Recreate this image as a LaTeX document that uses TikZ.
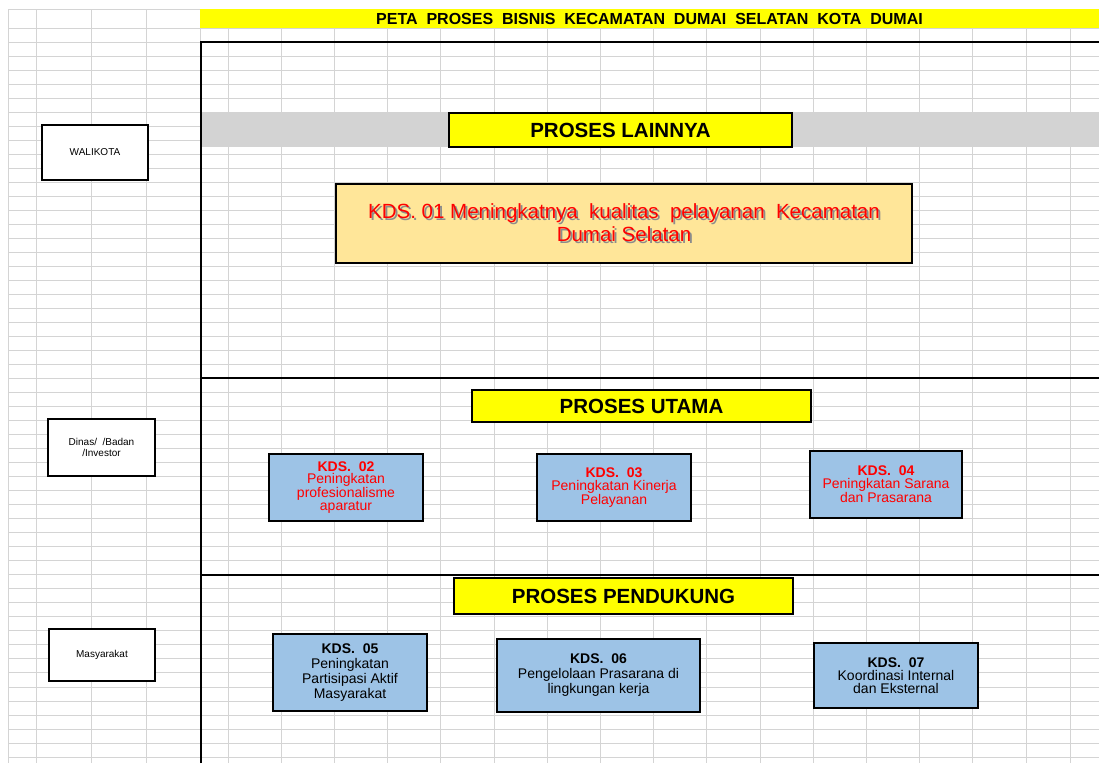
\documentclass[tikz,border=0pt]{standalone}
\usepackage{fontspec}
\setmainfont{Liberation Sans}
\setsansfont{Liberation Sans}
\usepackage{xcolor}
\usepackage{tikz}

\definecolor{gridgray}{RGB}{212,212,212}
\definecolor{bandgray}{RGB}{211,211,211}
\definecolor{titleyellow}{RGB}{255,255,0}
\definecolor{goalorange}{RGB}{255,230,153}
\definecolor{kdsblue}{RGB}{157,195,230}
\definecolor{shadowgray}{RGB}{140,140,140}

\newcommand{\shadowed}[1]{\makebox[0pt][l]{\hspace{2pt}\raisebox{-1.5pt}{\textcolor{shadowgray}{#1}}}#1}

\tikzset{
  gridline/.style={draw=gridgray, line width=0.9pt},
  frameline/.style={line width=2pt},
  unitbox/.style={draw, line width=2pt, fill=white, align=center, inner sep=0pt, font=\fontsize{10}{11.5}\selectfont},
  headbox/.style={draw, line width=2pt, fill=titleyellow, inner sep=0pt, font=\bfseries\fontsize{20.5}{24}\selectfont},
  goalbox/.style={draw, line width=2.2pt, fill=goalorange, align=center, inner sep=0pt, text=red, font=\fontsize{20.5}{23}\selectfont},
  kdsbox/.style={draw, line width=2.2pt, fill=kdsblue, align=center, inner sep=0pt, font=\fontsize{14}{#1}\selectfont},
  kdsbox/.default=13
}

\begin{document}
\begin{tikzpicture}[x=1pt, y=-1pt]
    \useasboundingbox (0,0) rectangle (1099,763);

    % sheet grid
    \foreach \gx in {8,36,91,146,200}
        \draw[gridline] (\gx,9) -- (\gx,763);
    \foreach \k in {0,...,15}
        \draw[gridline] (228+53.2*\k,9) -- (228+53.2*\k,763);
    \draw[gridline] (1070,9) -- (1070,763);
    \draw[gridline] (8,9) -- (200,9);
    \foreach \k in {0,...,52}
        \draw[gridline] (8,28+14.02*\k) -- (1099,28+14.02*\k);

    % title
    \node[fill=titleyellow, minimum width=899pt, minimum height=19pt, inner sep=0pt, font=\bfseries\fontsize{16}{18}\selectfont] (title) at (649.5,18.5) {PETA~~PROSES~~BISNIS~~KECAMATAN~~DUMAI~~SELATAN~~KOTA~~DUMAI};

    % frame and band
    \fill[bandgray] (202,112) rectangle (1099,147);
    \draw[frameline] (201,763) -- (201,42) -- (1099,42);
    \draw[frameline] (200,378) -- (1099,378);
    \draw[frameline] (200,575) -- (1099,575);

    % units
    \node[unitbox, minimum width=106pt, minimum height=55pt] (walikota) at (95,152.5) {WALIKOTA};
    \node[unitbox, minimum width=107pt, minimum height=57pt] (dinas) at (101.5,447.5) {Dinas/~~/Badan\\/Investor};
    \node[unitbox, minimum width=106pt, minimum height=52pt] (masyarakat) at (102,655) {Masyarakat};

    % process headers
    \node[headbox, minimum width=343pt, minimum height=34pt] (lainnya) at (620.5,130) {PROSES LAINNYA};
    \node[headbox, minimum width=339pt, minimum height=32pt] (utama) at (641.5,406) {PROSES UTAMA};
    \node[headbox, minimum width=339pt, minimum height=36pt] (pendukung) at (623.5,596) {PROSES PENDUKUNG};

    % goal
    \node[goalbox, minimum width=576pt, minimum height=79pt] (kds01) at (624,223.5) {\shadowed{KDS. 01 Meningkatnya~~kualitas~~pelayanan~~Kecamatan}\\\shadowed{Dumai Selatan}};

    % main processes
    \node[kdsbox=11.9, text=red, minimum width=154pt, minimum height=67pt] (kds02) at (346,487.5) {\textbf{KDS.~~02}\\Peningkatan\\profesionalisme\\aparatur};
    \node[kdsbox, text=red, minimum width=154pt, minimum height=67pt] (kds03) at (614,487.5) {\textbf{KDS.~~03}\\Peningkatan Kinerja\\Pelayanan};
    \node[kdsbox, text=red, minimum width=152pt, minimum height=67pt] (kds04) at (886,484.5) {\textbf{KDS.~~04}\\Peningkatan Sarana\\dan Prasarana};

    % support processes
    \node[kdsbox=15, minimum width=154pt, minimum height=77pt] (kds05) at (350,672.5) {\textbf{KDS.~~05}\\Peningkatan\\Partisipasi Aktif\\Masyarakat};
    \node[kdsbox=15, minimum width=203pt, minimum height=73pt] (kds06) at (598.5,675.5) {\textbf{KDS.~~06}\\Pengelolaan Prasarana di\\lingkungan kerja};
    \node[kdsbox, minimum width=164pt, minimum height=65pt] (kds07) at (896,675.5) {\textbf{KDS.~~07}\\Koordinasi Internal\\dan Eksternal};
\end{tikzpicture}
\end{document}
